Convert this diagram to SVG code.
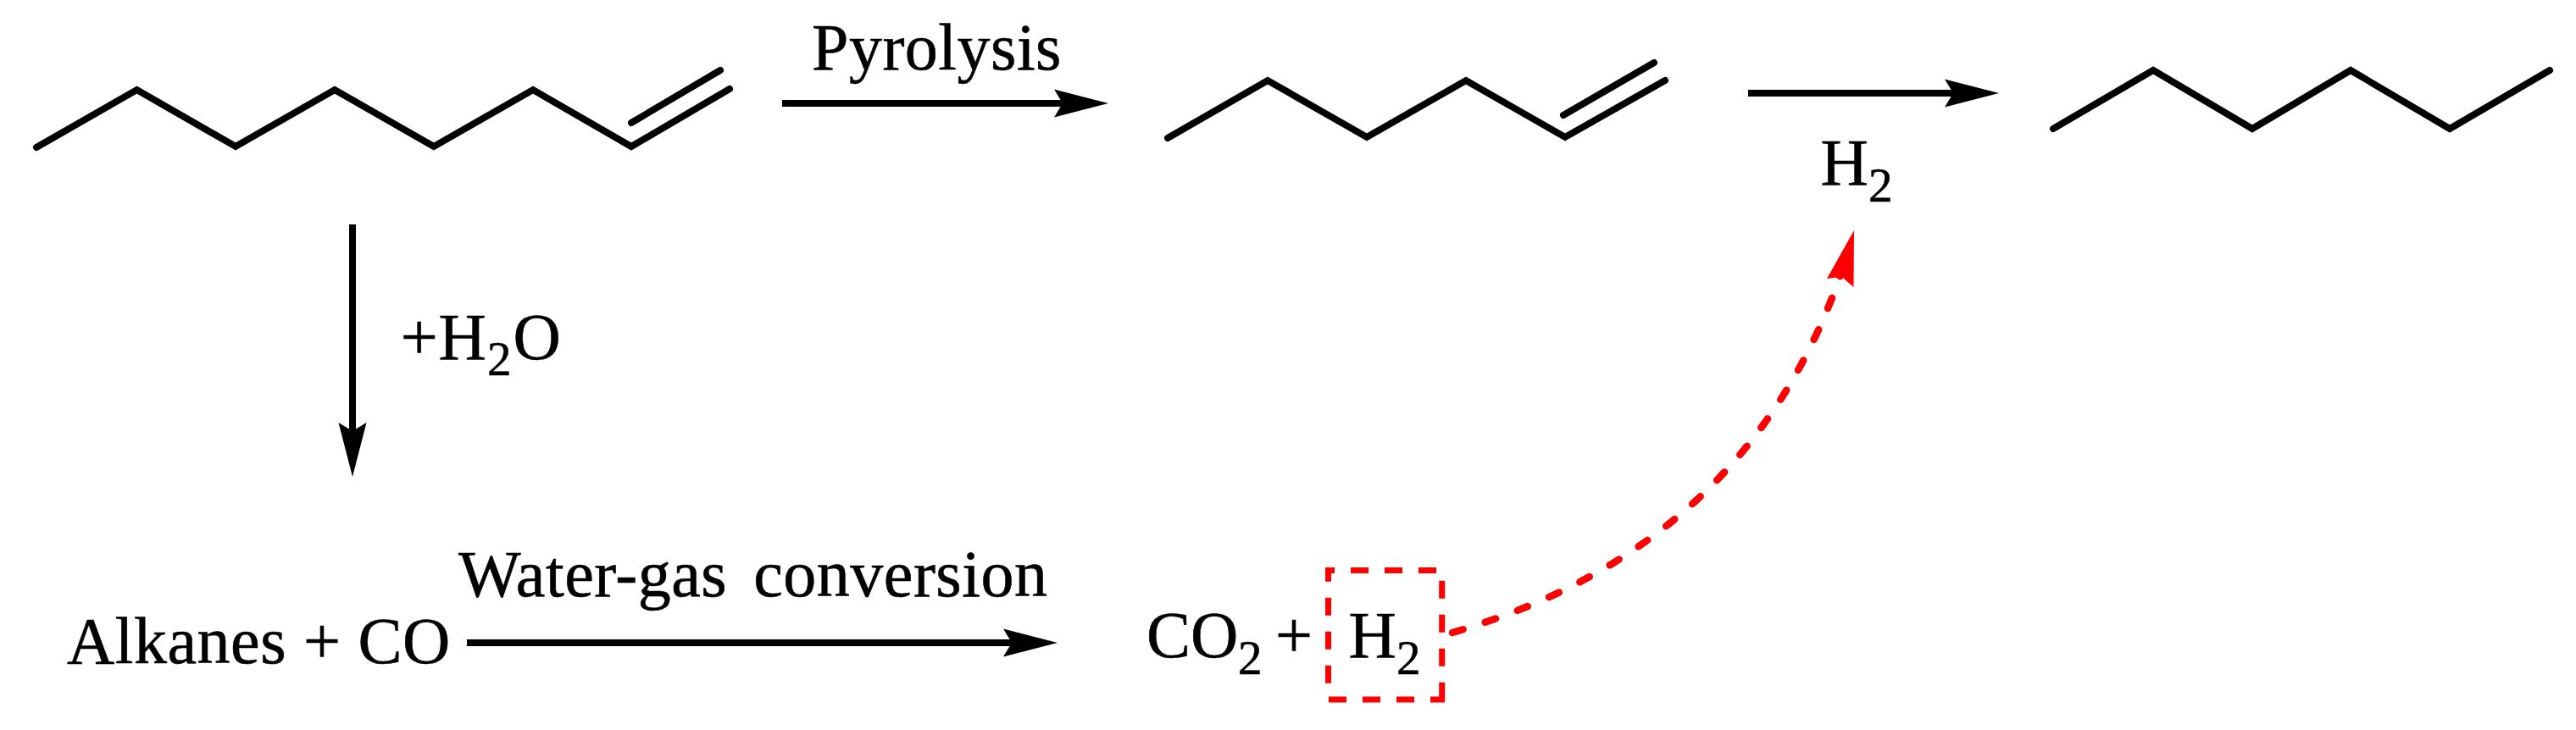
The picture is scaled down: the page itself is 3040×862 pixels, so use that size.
<svg xmlns="http://www.w3.org/2000/svg" width="3040" height="862" viewBox="0 0 3040 862">
  <style>
    text { font-family: "Liberation Serif", "Times New Roman", serif; font-size: 78px; fill: #000; stroke: #000; stroke-width: 0.6; }
    .sub { font-size: 57px; }
    .wide { letter-spacing: 0.5px; }
    .bond { fill: none; stroke: #000; stroke-width: 8; stroke-linecap: round; stroke-linejoin: miter; }
    .arrow { fill: none; stroke: #000; stroke-width: 8; marker-end: url(#head); }
    .box-side { fill: none; stroke: #f00; stroke-width: 7; stroke-dasharray: 21 19; }
  </style>
  <defs>
    <marker id="head" markerUnits="userSpaceOnUse" viewBox="0 -17 64 34" markerWidth="64" markerHeight="34" refX="10" refY="0" orient="auto">
      <path d="M0 -16.5 L64 0 L0 16.5 L10 0 Z" fill="#000"/>
    </marker>
  </defs>
  <rect width="3040" height="862" fill="#fff"/>

  <g id="connectors">
    <line class="arrow" x1="923" y1="122" x2="1254" y2="122"/>
    <line class="arrow" x1="2063" y1="110" x2="2305" y2="110"/>
    <line class="arrow" x1="416" y1="265" x2="416" y2="509"/>
    <line class="arrow" x1="551" y1="759" x2="1194" y2="759"/>
    <path id="red-curve" d="M1714 747 C1949 679 2104 533 2177 310" fill="none" stroke="#f00" stroke-width="8.500" stroke-linecap="round" stroke-dasharray="13 27.500"/>
    <path id="red-head" d="M2188 272 L2156 329 L2173.700 327 L2187.500 339 Z" fill="#f00"/>
  </g>

  <g id="octene">
    <path class="bond" d="M43 174 L161.500 106 L278 173 L395 106 L512 173 L629 106 L745 173 L861 105"/>
    <path class="bond" d="M745 145 L850 83"/>
  </g>
  <g id="hexene">
    <path class="bond" d="M1378 163 L1496 95 L1613 162 L1730 95 L1847 162 L1965 95"/>
    <path class="bond" d="M1845 136 L1952 74"/>
  </g>
  <g id="hexane">
    <path class="bond" d="M2423 152 L2541 83 L2658 152 L2774 83 L2891 152 L3009 83"/>
  </g>

  <g id="label-pyrolysis"><text class="wide" x="958" y="82">Pyrolysis</text></g>
  <g id="label-h2-top"><text y="218"><tspan x="2148.500">H</tspan><tspan class="sub" x="2205" y="238">2</tspan></text></g>
  <g id="label-water"><text y="424"><tspan x="472.700">+</tspan><tspan x="517.500">H</tspan><tspan class="sub" x="575" y="443">2</tspan><tspan x="605.500" y="424">O</tspan></text></g>
  <g id="alkanes-co"><text class="wide" x="79" y="783">Alkanes + CO</text></g>
  <g id="label-water-gas"><text class="wide" x="541" y="704" word-spacing="11">Water-gas conversion</text></g>
  <g id="co2"><text y="776"><tspan x="1353">CO</tspan><tspan class="sub" x="1461" y="796">2</tspan><tspan x="1505" y="776">+</tspan></text></g>
  <g id="h2-boxed">
    <line class="box-side" x1="1564" y1="673.500" x2="1701.700" y2="673.500" stroke-dashoffset="10"/>
    <line class="box-side" x1="1701.700" y1="670" x2="1701.700" y2="830" stroke-dashoffset="24.300"/>
    <line class="box-side" x1="1705" y1="826" x2="1567.500" y2="826" stroke-dashoffset="4"/>
    <line class="box-side" x1="1567.500" y1="806.700" x2="1567.500" y2="670"/>
    <text y="776"><tspan x="1591.500">H</tspan><tspan class="sub" x="1648" y="796">2</tspan></text>
  </g>
</svg>
